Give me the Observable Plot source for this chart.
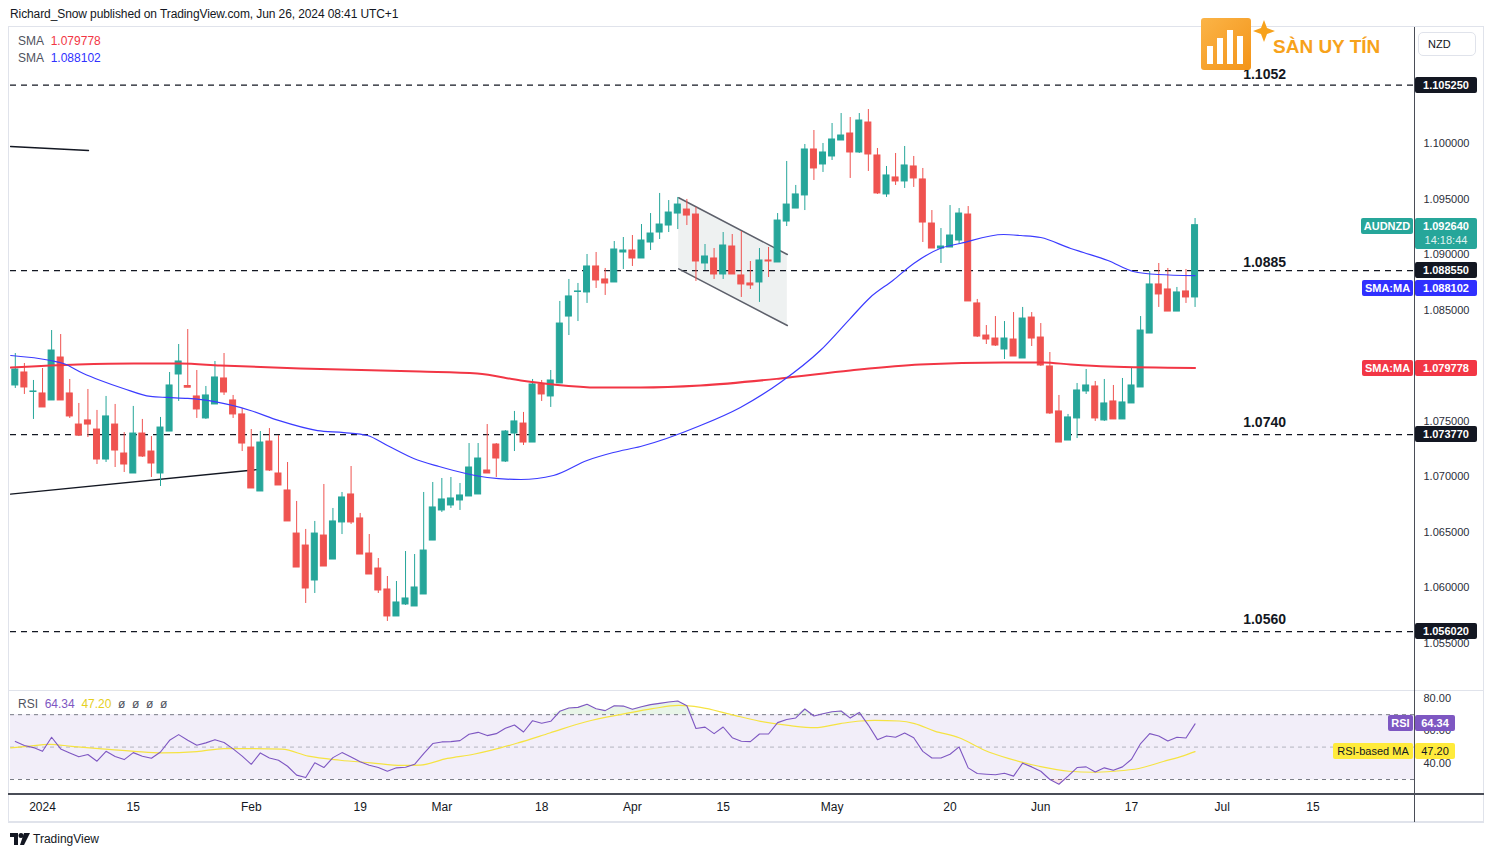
<!DOCTYPE html>
<html>
<head>
<meta charset="utf-8">
<script src="https://cdn.jsdelivr.net/npm/d3@7"></script>
<script src="https://cdn.jsdelivr.net/npm/@observablehq/plot@0.6"></script>
<style>
html,body{margin:0;padding:0;background:#fff;}
#wrap{position:relative;width:1492px;height:857px;overflow:hidden;font-family:"Liberation Sans",Arial,sans-serif;color:#131722;}
.abs{position:absolute;white-space:nowrap;}
.tag{position:absolute;box-sizing:border-box;font-size:11px;font-weight:bold;color:#fff;display:flex;flex-direction:column;align-items:center;justify-content:center;border-radius:2px;white-space:nowrap;line-height:14px;}
.line{position:absolute;}
</style>
</head>
<body>
<div id="wrap"></div>
<script>
// ---------------- DATA ----------------
const startDate = "2023-12-27", endDate = "2024-06-26";
const open = [
1.07820,1.07937,1.07761,1.07748,1.07685,1.08072,1.07748,1.07468,1.07505,1.07423,
1.07153,1.07468,1.07207,1.07027,1.07387,1.07225,1.07027,1.07405,1.07919,1.07815,
1.07721,1.07523,1.07649,1.07883,1.07685,1.07559,1.07261,1.06865,1.07315,1.07027,
1.06874,1.06486,1.06378,1.06063,1.06468,1.06252,1.06586,1.06838,1.06622,1.06306,
1.06171,1.05982,1.05739,1.05847,1.05829,1.05937,1.06423,1.06694,1.06739,1.06784,
1.06820,1.06838,1.07054,1.07288,1.07135,1.07387,1.07477,1.07306,1.07829,1.07721,
1.07838,1.08441,1.08662,1.08658,1.08892,1.08775,1.08748,1.09018,1.09036,1.08964,
1.09108,1.09198,1.09261,1.09369,1.09405,1.09360,1.08919,1.08964,1.08820,1.09072,
1.08811,1.08739,1.08748,1.08946,1.08928,1.09297,1.09414,1.09532,1.09946,1.09811,
1.09883,1.10027,1.10090,1.09919,1.10189,1.09892,1.09541,1.09694,1.09658,1.09793,
1.09676,1.09279,1.09054,1.09063,1.09126,1.09360,1.08559,1.08270,1.08243,1.08144,
1.08234,1.08063,1.08432,1.08252,1.07991,1.07586,1.07324,1.07523,1.07766,1.07811,
1.07505,1.07676,1.07514,1.07658,1.07802,1.08288,1.08730,1.08685,1.08486,1.08667,
1.08613];
const high = [
1.08108,1.08018,1.07865,1.07973,1.08315,1.08279,1.07874,1.07658,1.07784,1.07595,
1.07721,1.07649,1.07396,1.07631,1.07514,1.07360,1.07532,1.07937,1.08189,1.08324,
1.07955,1.07811,1.08036,1.08108,1.07730,1.07613,1.07423,1.07405,1.07432,1.07369,
1.07126,1.06775,1.06523,1.06595,1.06928,1.06712,1.06856,1.07090,1.06667,1.06477,
1.06261,1.06099,1.06054,1.06324,1.06297,1.06856,1.06946,1.06982,1.06991,1.06937,
1.07297,1.07297,1.07468,1.07297,1.07414,1.07586,1.07577,1.07874,1.07865,1.07955,
1.08577,1.08775,1.08739,1.09000,1.09018,1.08874,1.09117,1.09153,1.09171,1.09270,
1.09369,1.09550,1.09486,1.09514,1.09496,1.09423,1.09090,1.09054,1.09198,1.09180,
1.09207,1.08937,1.09054,1.09063,1.09369,1.09838,1.09622,1.09991,1.10117,1.10000,
1.10180,1.10270,1.10234,1.10270,1.10306,1.09955,1.09793,1.09910,1.09973,1.09883,
1.09775,1.09396,1.09234,1.09441,1.09414,1.09432,1.08595,1.08360,1.08441,1.08396,
1.08477,1.08523,1.08477,1.08378,1.08117,1.07730,1.07559,1.07838,1.07964,1.07856,
1.07874,1.07820,1.07883,1.07982,1.08441,1.08847,1.08919,1.08874,1.08703,1.08865,
1.09324];
const low = [
1.07793,1.07739,1.07514,1.07622,1.07685,1.07685,1.07523,1.07360,1.07351,1.07108,
1.07126,1.07081,1.07036,1.07027,1.07171,1.06991,1.06910,1.07405,1.07676,1.07802,
1.07523,1.07514,1.07649,1.07730,1.07523,1.07225,1.06892,1.06865,1.07045,1.06919,
1.06595,1.06180,1.05856,1.05946,1.06189,1.06252,1.06477,1.06568,1.06297,1.06117,
1.05946,1.05694,1.05739,1.05838,1.05829,1.05937,1.06423,1.06676,1.06712,1.06694,
1.06820,1.06838,1.07027,1.06991,1.07126,1.07225,1.07279,1.07306,1.07676,1.07622,
1.07838,1.08270,1.08396,1.08559,1.08694,1.08631,1.08748,1.08865,1.08892,1.08964,
1.09036,1.09135,1.09198,1.09225,1.09261,1.08757,1.08856,1.08775,1.08775,1.08820,
1.08613,1.08685,1.08568,1.08793,1.08928,1.09252,1.09414,1.09396,1.09667,1.09739,
1.09847,1.10027,1.09685,1.09910,1.09748,1.09541,1.09514,1.09622,1.09595,1.09604,
1.09108,1.09054,1.08919,1.09063,1.09090,1.08577,1.08252,1.08189,1.08171,1.08054,
1.08081,1.08063,1.08171,1.07991,1.07559,1.07306,1.07324,1.07342,1.07739,1.07496,
1.07496,1.07514,1.07514,1.07658,1.07802,1.08288,1.08523,1.08486,1.08486,1.08559,
1.08523];
const close = [
1.07964,1.07802,1.07766,1.07622,1.08135,1.07685,1.07541,1.07369,1.07468,1.07153,
1.07541,1.07234,1.07108,1.07387,1.07180,1.07117,1.07441,1.07820,1.08036,1.07800,
1.07604,1.07730,1.07892,1.07757,1.07559,1.07297,1.06892,1.07306,1.07054,1.06919,
1.06595,1.06180,1.05991,1.06486,1.06189,1.06595,1.06811,1.06586,1.06297,1.06117,
1.05973,1.05739,1.05865,1.05901,1.06000,1.06333,1.06721,1.06793,1.06802,1.06829,
1.07081,1.07162,1.07027,1.07162,1.07405,1.07496,1.07306,1.07829,1.07739,1.07865,
1.08378,1.08622,1.08667,1.08892,1.08766,1.08739,1.09045,1.09036,1.08964,1.09126,
1.09189,1.09270,1.09378,1.09450,1.09351,1.08937,1.08982,1.08820,1.09081,1.08820,
1.08730,1.08721,1.08946,1.08937,1.09306,1.09450,1.09541,1.09946,1.09775,1.09919,
1.10036,1.10072,1.09919,1.10207,1.09901,1.09550,1.09712,1.09658,1.09802,1.09685,
1.09288,1.09054,1.09072,1.09171,1.09369,1.08577,1.08261,1.08234,1.08180,1.08243,
1.08081,1.08423,1.08243,1.08000,1.07568,1.07306,1.07532,1.07775,1.07820,1.07523,
1.07658,1.07514,1.07667,1.07820,1.08315,1.08730,1.08640,1.08486,1.08658,1.08613,
1.09264];
// RSI(14), one value per candle
const rsi = [
53.5,51.0,49.7,47.4,56.1,48.9,46.4,44.0,45.4,41.3,
47.4,44.2,42.3,46.6,44.4,43.1,47.0,54.2,57.7,54.2,
51.1,52.6,54.6,52.8,48.9,44.4,39.4,46.4,43.3,41.9,
38.2,32.7,31.2,40.3,37.4,43.5,46.6,43.9,40.9,38.8,
37.4,35.1,37.2,37.6,39.4,46.0,52.2,53.2,53.4,54.0,
57.9,59.1,57.1,58.3,61.6,63.6,59.3,66.3,64.7,65.9,
72.1,74.1,74.5,76.4,73.7,72.5,75.5,75.3,73.3,74.9,
76.2,77.0,77.8,78.4,75.5,61.5,62.3,58.3,62.4,55.8,
53.6,53.4,58.1,58.1,65.1,67.0,68.0,73.5,69.2,70.6,
71.8,72.3,67.9,71.4,63.6,54.6,56.9,56.1,58.7,55.8,
47.4,43.3,43.3,45.6,50.1,37.2,33.7,33.3,32.9,33.9,
32.1,40.1,37.8,35.1,30.0,27.1,32.1,37.4,37.8,34.7,
37.2,35.7,37.8,42.5,52.2,58.3,56.9,53.8,56.1,55.6,
64.34];
// RSI-based MA, read at trading-day positions
const rsiMaK = [-0.5,1.3,3.8,6.2,9.2,13.1,16.1,20,23,25.9,29.4,32.3,35.8,39.2,42.6,44.6,47.6,50.5,52.5,55.4,58.9,62.8,67.2,70.2,73.1,75.5,78.8,82.1,85.4,88.1,90.9,93.1,94.7,97.4,99.1,101.3,104,106.8,109.5,112.8,116.1,118.8,121,123.8,126.5,128.7,130];
const rsiMaV = [49.5,50.5,51.7,50.5,49.1,47.4,46.4,47.2,49.1,49.1,48.7,44.4,41.9,40.3,38.7,38.9,43.0,45.6,48.1,52.6,58.7,65.5,70.6,73.7,75.7,74.5,70.2,65.9,63.2,62.0,64.5,66.1,66.5,66.1,64.5,59.9,55.8,48.1,42.9,38.2,35.1,34.5,35.1,36.8,41.1,44.6,47.2];
// SMA (fast, blue) and SMA (slow, red)
const smaFastK = [-0.5,3.9,5.3,7.5,9.4,11.9,14.9,16.8,19,21.8,25.9,29,33.3,36.2,38.8,41,43.9,46.7,48.3,52,55.7,59.3,63,65.9,68.9,75.5,79.9,84.3,88.7,92,94.2,96.7,99,101.9,104.1,108.9,110.8,113,116.3,117.7,120.4,123.2,125.9,130];
const smaFastV = [1.08090,1.08045,1.08018,1.07928,1.07865,1.07793,1.07721,1.07712,1.07703,1.07676,1.07595,1.07505,1.07414,1.07396,1.07369,1.07279,1.07162,1.07090,1.07054,1.06991,1.06973,1.07009,1.07144,1.07216,1.07270,1.07459,1.07622,1.07847,1.08135,1.08423,1.08613,1.08766,1.08919,1.09054,1.09099,1.09180,1.09171,1.09153,1.09054,1.09018,1.08946,1.08847,1.08820,1.088102];
const smaSlowK = [-0.5,6.9,13,18.2,22.6,31.4,44.6,50.9,55.7,59.3,64.2,68.9,75.5,84.3,92,99.7,108.9,113.3,116.3,120.4,130];
const smaSlowV = [1.07982,1.08009,1.08018,1.08018,1.08000,1.07973,1.07946,1.07928,1.07865,1.07829,1.07802,1.07802,1.07820,1.07883,1.07955,1.08009,1.08027,1.08027,1.08009,1.07991,1.079778];
// horizontal levels
const levelPrices = [1.10525, 1.08855, 1.07377, 1.05602];
const levelNames = ["1.1052", "1.0885", "1.0740", "1.0560"];
const levelLabelPrices = [1.1062, 1.0893, 1.0749, 1.0571];
// drawings: trend lines and falling flag
const trendAK = [-0.53, 8.07], trendAV = [1.09973, 1.09937];
const trendBK = [-0.53, 26.8], trendBV = [1.06841, 1.07063];
const flagK = [73.1, 85.07], flagTop = [1.09511, 1.09000], flagBottom = [1.08871, 1.08360];
// ticks (1.080000 sits under the SMA price tag and is not shown)
const priceTicks = [1.055, 1.06, 1.065, 1.07, 1.075, 1.085, 1.09, 1.095, 1.1];
const rsiTicks = [40, 60, 80];
const tickDates = ["2024-01-01","2024-01-15","2024-02-01","2024-02-19","2024-03-01","2024-03-18","2024-04-01","2024-04-15","2024-05-01","2024-05-20","2024-06-03","2024-06-17","2024-07-01","2024-07-15"];
const tickNames = ["2024","15","Feb","19","Mar","18","Apr","15","May","20","Jun","17","Jul","15"];

// ---------------- BUILD ----------------
const wrap = document.getElementById("wrap");
const DAY = 86400000;
function tradingIndex(s) {
  let t = Date.parse(startDate + "T00:00:00Z"), end = Date.parse(s + "T00:00:00Z"), n = 0;
  while (t < end) { t += DAY; const w = new Date(t).getUTCDay(); if (w !== 0 && w !== 6) n++; }
  return n;
}
const candles = open.map((o, i) => ({k: i, o, h: high[i], l: low[i], c: close[i]}));
const ups = candles.filter(d => d.c >= d.o), downs = candles.filter(d => d.c < d.o);
const UP = "#26a69a", DOWN = "#ef5350";
const xDom = [-0.53, 154.29];
const pts = (K, V) => K.map((k, i) => ({k, v: V[i]}));
const font = "Liberation Sans, Arial, sans-serif";

const pricePlot = Plot.plot({
  width: 1492, height: 690, marginLeft: 10, marginRight: 77, marginTop: 28, marginBottom: 0,
  x: {domain: xDom, axis: null, label: null},
  y: {domain: [1.05072, 1.11036], axis: null, label: null},
  style: {background: "transparent", fontFamily: font, fontSize: "11px", color: "#2a2e39", overflow: "visible"},
  marks: [
    Plot.areaY(flagK.map((k, i) => ({k, lo: flagBottom[i], hi: flagTop[i]})), {x: "k", y1: "lo", y2: "hi", fill: "#eef1f1"}),
    Plot.ruleY(levelPrices, {stroke: "#131722", strokeWidth: 1.2, strokeDasharray: "6,5"}),
    Plot.line(pts(flagK, flagTop), {x: "k", y: "v", stroke: "#5d606b", strokeWidth: 1.5}),
    Plot.line(pts(flagK, flagBottom), {x: "k", y: "v", stroke: "#5d606b", strokeWidth: 1.5}),
    Plot.line(pts(trendAK, trendAV), {x: "k", y: "v", stroke: "#131722", strokeWidth: 1.3, clip: true}),
    Plot.line(pts(trendBK, trendBV), {x: "k", y: "v", stroke: "#131722", strokeWidth: 1.3, clip: true}),
    Plot.ruleX(ups, {x: "k", y1: "l", y2: "h", stroke: UP, strokeWidth: 1}),
    Plot.ruleX(downs, {x: "k", y1: "l", y2: "h", stroke: DOWN, strokeWidth: 1}),
    Plot.rect(ups, {x1: d => d.k - 0.33, x2: d => d.k + 0.33, y1: "o", y2: "c", fill: UP, stroke: UP, strokeWidth: 1}),
    Plot.rect(downs, {x1: d => d.k - 0.33, x2: d => d.k + 0.33, y1: "o", y2: "c", fill: DOWN, stroke: DOWN, strokeWidth: 1}),
    Plot.line(pts(smaSlowK, smaSlowV), {x: "k", y: "v", stroke: "#f23645", strokeWidth: 2, curve: "monotone-x", clip: true}),
    Plot.line(pts(smaFastK, smaFastV), {x: "k", y: "v", stroke: "#3b3bff", strokeWidth: 1.2, curve: "monotone-x", clip: true}),
    Plot.text(levelNames.map((t, i) => ({t, y: levelLabelPrices[i]})), {x: () => 135.3, y: "y", text: "t", textAnchor: "start", fontSize: 14, fontWeight: "bold", fill: "#131722"}),
    Plot.axisY({anchor: "right", label: null, ticks: priceTicks, tickFormat: d => d.toFixed(6), tickSize: 0, tickPadding: 8, fontSize: 11})
  ]
});
pricePlot.style.position = "absolute"; pricePlot.style.left = "0px"; pricePlot.style.top = "0px";
wrap.appendChild(pricePlot);

const rsiData = pts(rsi.map((_, i) => i), rsi);
const tickK = tickDates.map(tradingIndex);
const tickMap = new Map(tickK.map((k, i) => [k, tickNames[i]]));
const rsiPlot = Plot.plot({
  width: 1492, height: 132, marginLeft: 10, marginRight: 77, marginTop: 0, marginBottom: 29,
  x: {domain: xDom, axis: null, label: null},
  y: {domain: [21.38, 84.92], axis: null, label: null},
  style: {background: "transparent", fontFamily: font, fontSize: "11px", color: "#2a2e39", overflow: "visible"},
  marks: [
    Plot.rect([0], {x1: xDom[0], x2: xDom[1], y1: 30, y2: 70, fill: "#7e57c2", fillOpacity: 0.1}),
    Plot.ruleY([70, 30], {stroke: "#787b86", strokeDasharray: "4,4"}),
    Plot.ruleY([50], {stroke: "#787b86", strokeOpacity: 0.5, strokeDasharray: "4,4"}),
    Plot.areaY(rsiData, {x: "k", y1: 70, y2: d => Math.max(70, d.v), fill: "#4caf50", fillOpacity: 0.13}),
    Plot.areaY(rsiData, {x: "k", y1: 30, y2: d => Math.min(30, d.v), fill: "#f23645", fillOpacity: 0.13}),
    Plot.line(pts(rsiMaK, rsiMaV), {x: "k", y: "v", stroke: "#f5e342", strokeWidth: 1.2, curve: "monotone-x", clip: true}),
    Plot.line(rsiData, {x: "k", y: "v", stroke: "#7e57c2", strokeWidth: 1.1}),
    Plot.axisY({anchor: "right", label: null, ticks: rsiTicks, tickFormat: d => d.toFixed(2), tickSize: 0, tickPadding: 8, fontSize: 11}),
    Plot.axisX({label: null, ticks: tickK, tickFormat: k => tickMap.get(k), tickSize: 0, tickPadding: 9, fontSize: 12, fill: "#131722"})
  ]
});
rsiPlot.style.position = "absolute"; rsiPlot.style.left = "0px"; rsiPlot.style.top = "690px";
wrap.appendChild(rsiPlot);

// ---------------- FRAME & OVERLAYS ----------------
function el(cls, css, html) { const d = document.createElement("div"); d.className = cls; d.style.cssText = css; if (html !== undefined) d.innerHTML = html; wrap.appendChild(d); return d; }
el("line", "left:8px;top:26px;width:1476px;height:1px;background:#e0e3eb;");
el("line", "left:8px;top:26px;width:1px;height:797px;background:#e0e3eb;");
el("line", "left:1483px;top:26px;width:1px;height:797px;background:#e0e3eb;");
el("line", "left:8px;top:821px;width:1476px;height:2px;background:#e0e3eb;");
el("line", "left:8px;top:690px;width:1476px;height:1px;background:#e0e3eb;");
el("line", "left:8px;top:793px;width:1476px;height:1.5px;background:#4a4d57;");
el("line", "left:1414px;top:27px;width:1px;height:795px;background:#4a4d57;");

const py = v => pricePlot.scale("y").apply(v);
const ry = v => 690 + rsiPlot.scale("y").apply(v);
function tag(x, y, w, h, bg, fg, html, extra = "") {
  return el("tag", `left:${x}px;top:${y}px;width:${w}px;height:${h}px;background:${bg};color:${fg};${extra}`, html);
}
levelPrices.forEach(v => tag(1415, py(v) - 8, 62, 16, "#131722", "#fff", v.toFixed(6)));
const last = close[close.length - 1];
tag(1361, py(last) - 7, 52, 16, UP, "#fff", "AUDNZD");
tag(1415, py(last) - 7, 62, 31, UP, "#fff", `${last.toFixed(6)}<span style="font-weight:normal;opacity:.85">14:18:44</span>`);
const fastLast = smaFastV[smaFastV.length - 1], slowLast = smaSlowV[smaSlowV.length - 1];
const fastTop = Math.max(py(fastLast) - 8, py(levelPrices[1]) + 10);
tag(1362, fastTop, 51, 16, "#3030ff", "#fff", "SMA:MA");
tag(1415, fastTop, 62, 16, "#3030ff", "#fff", fastLast.toFixed(6));
tag(1362, py(slowLast) - 7, 51, 16, "#f23645", "#fff", "SMA:MA");
tag(1415, py(slowLast) - 7, 62, 16, "#f23645", "#fff", slowLast.toFixed(6));
const rsiLast = rsi[rsi.length - 1], maLast = rsiMaV[rsiMaV.length - 1];
tag(1388, ry(rsiLast) - 8, 25, 16, "#7e57c2", "#fff", "RSI");
tag(1415, ry(rsiLast) - 8, 40, 16, "#7e57c2", "#fff", rsiLast.toFixed(2));
tag(1333, ry(maLast) - 8, 80, 16, "#ffeb3b", "#131722", "RSI-based MA", "font-weight:normal;");
tag(1415, ry(maLast) - 8, 40, 16, "#ffeb3b", "#131722", maLast.toFixed(2), "font-weight:normal;");

// currency button
el("abs", "left:1418px;top:32px;width:58px;height:24px;border:1px solid #e0e3eb;border-radius:5px;box-sizing:border-box;font-size:11px;display:flex;align-items:center;padding-left:9px;color:#131722;", "NZD");

// header and legends
el("abs", "left:10px;top:7px;font-size:12px;color:#131722;letter-spacing:-0.1px;", "Richard_Snow published on TradingView.com, Jun 26, 2024 08:41 UTC+1");
el("abs", "left:18px;top:34px;font-size:12px;color:#50535e;", `SMA&nbsp;&nbsp;<span style="color:#f23645">${slowLast.toFixed(6)}</span>`);
el("abs", "left:18px;top:51px;font-size:12px;color:#50535e;", `SMA&nbsp;&nbsp;<span style="color:#3030ff">${fastLast.toFixed(6)}</span>`);
el("abs", "left:18px;top:697px;font-size:12px;color:#50535e;", `RSI&nbsp;&nbsp;<span style="color:#7e57c2">${rsiLast.toFixed(2)}</span>&nbsp;&nbsp;<span style="color:#e5cf1e">${maLast.toFixed(2)}</span>&nbsp;&nbsp;ø&nbsp;&nbsp;ø&nbsp;&nbsp;ø&nbsp;&nbsp;ø`);

// watermark logo
el("abs", "left:1196px;top:14px;", `<svg width="190" height="60" xmlns="http://www.w3.org/2000/svg">
 <defs><linearGradient id="og" x1="0" y1="0" x2="1" y2="1"><stop offset="0" stop-color="#fbb447"/><stop offset="1" stop-color="#f39419"/></linearGradient></defs>
 <rect x="5" y="4" width="50" height="52" rx="3" fill="url(#og)"/>
 <rect x="11" y="32" width="6" height="18" fill="#fff"/>
 <rect x="21" y="24" width="6" height="26" fill="#fff"/>
 <rect x="31" y="16" width="6" height="34" fill="#fff"/>
 <rect x="41" y="22" width="6" height="28" fill="#fff"/>
 <path d="M68 6 L71 14 L79 17 L71 20 L68 28 L65 20 L57 17 L65 14 Z" fill="#f7a21b"/>
 <text x="77" y="39" font-family="Liberation Sans, Arial, sans-serif" font-size="19" font-weight="700" fill="#f7a21b">SÀN UY TÍN</text>
</svg>`);

// TradingView footer
el("abs", "left:10px;top:832px;font-size:12px;color:#131722;display:flex;align-items:center;", `<svg width="20" height="12" style="margin-right:3px"><path d="M0 0h8v12H4V4H0z" fill="#131722"/><circle cx="11" cy="2.5" r="2.5" fill="#131722"/><path d="M14 0h6l-6 12h-4z" fill="#131722"/></svg>TradingView`);
</script>
</body>
</html>
